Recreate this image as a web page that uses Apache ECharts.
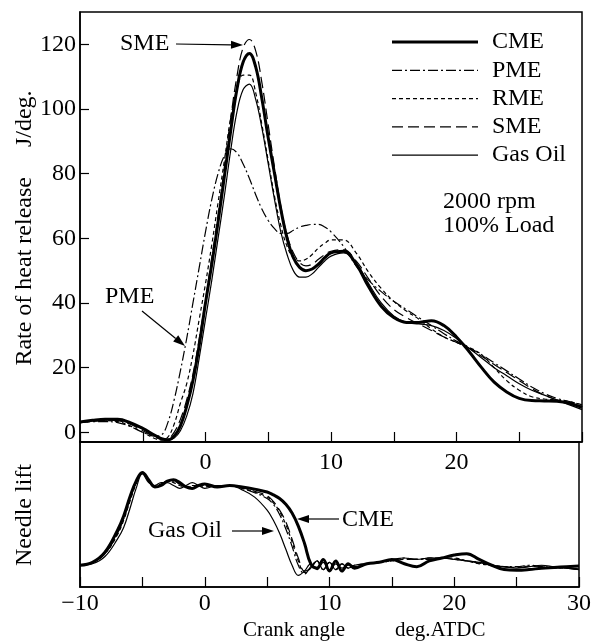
<!DOCTYPE html>
<html>
<head>
<meta charset="utf-8">
<script src="https://cdn.jsdelivr.net/npm/echarts@6/dist/echarts.min.js"></script>
<style>html,body{margin:0;padding:0;background:#fff}#c{width:594px;height:641px}</style>
</head>
<body>
<div id="c"></div>
<script>
// ---- Data: rate of heat release (J/deg.) ----
const angleHR = [-10,-9,-8,-7,-6,-5,-4,-3.5,-3,-2.5,-2,-1.5,-1,-0.5,0,0.5,1,1.5,2,2.5,3,3.5,4,4.5,5,5.5,6,6.5,7,7.5,8,8.5,9,9.5,10,11,12,13,14,15,16,17,18,19,20,21,22,23,24,25,26,27,28,29,30];
const hrCME = [3.2,3.7,4.0,4.0,3.0,1.2,-1.0,-2.0,-2.3,-1.2,2,8,16,27,40,52,65,79,93,106,114.5,117.2,113,103,91,80,69,60,54,51,50,50.5,52,54,55.5,56,52,45,39,35.5,34,34,34.5,33,29.5,25,20,15.5,12.5,10.5,9.8,9.7,9.6,9,7.7];
const hrPME = [3.0,3.3,3.3,3.0,1.8,0,-1.2,-0.8,3,10,19,29,40,51,62,72,80,85.5,87.7,86.5,83,78.5,73.5,69,65.5,63,61.5,61.5,62.5,63.5,64,64.3,64.3,63.5,62,57.5,51.5,47,43.5,40.5,38,35.5,33,30.5,28.2,26.2,24,21.5,19,16.5,14,12,10.5,9.5,8.5];
const hrRME = [3.0,3.4,3.6,3.3,2.0,0,-2.0,-2.4,-1.5,2.5,9,15,24,35,46,58,71,84,97,106,110.5,110.5,105,95,84,73,64,57.5,54,53,53.5,55,57,58.5,59.5,59.5,55.5,49.5,44.5,40.5,37.5,35,32,29.5,27.8,26.3,24,20,16,13,11,10.3,10,9.5,8.5];
const hrSME = [3.0,3.5,3.8,3.6,2.5,0.5,-1.5,-2.2,-2.0,0,4,10,18,29,41,54,67,82,97,110,119,121.5,118,108,95,82,70,61,55.5,52.5,51.5,52,53.5,55,56,56.5,53,47.5,42,38,35.5,33.5,31.5,29.5,27.8,26,23.5,21,18.5,16,13.5,11.5,10,9,8];
const hrGasOil = [3.0,3.5,3.8,3.8,2.8,1.0,-1.0,-2.0,-2.5,-1.8,0.5,5,12,23,35,47,60,73,87,99,106,107.7,103,94,83,72,62,55,50,48,48,49,51,53,54.5,55.5,52.5,46,40,36,34,33.5,33,31.5,29,26,23,20,17.5,15,13,11.5,10,8.5,7];

// ---- Data: needle lift (arbitrary units) ----
const angleNL = [-10,-9,-8,-7,-6.5,-6,-5.5,-5,-4.5,-4,-3.5,-3,-2.5,-2,-1.5,-1,-0.5,0,1,2,3,4,5,5.5,6,6.5,7,7.5,8,8.5,9,9.5,10,10.5,11,11.5,12,13,14,15,16,17,18,19,20,21,22,23,24,25,26,27,28,29,30];
const nlCME = [1.5,1.7,2.4,3.9,4.9,6.2,7.3,7.9,7.4,6.9,7.0,7.3,7.4,7.2,6.9,6.8,7.0,7.1,6.9,7.0,6.9,6.75,6.55,6.35,6.1,5.7,5.1,4.2,3.0,1.6,1.3,1.9,1.1,1.8,1.1,1.6,1.3,1.6,1.7,1.9,1.6,1.4,1.8,2.0,2.2,2.3,1.9,1.5,1.2,1.15,1.2,1.3,1.35,1.4,1.45];
const nlPME = [1.5,1.7,2.3,3.7,4.7,6.0,7.2,7.9,7.3,6.9,7.1,7.3,7.3,7.1,6.9,6.9,7.0,7.0,6.9,7.0,6.8,6.5,6.1,5.7,5.0,4.0,2.8,1.5,0.9,1.4,1.8,1.2,1.7,1.2,1.6,1.3,1.5,1.6,1.7,1.8,2.0,1.9,1.9,2.0,1.9,1.8,1.7,1.5,1.4,1.4,1.5,1.4,1.35,1.3,1.25];
const nlRME = [1.5,1.7,2.3,3.6,4.6,5.9,7.1,7.85,7.3,7.0,7.1,7.3,7.2,7.0,6.9,7.0,7.0,6.9,7.0,7.0,6.8,6.55,6.2,5.8,5.2,4.3,3.1,1.8,1.0,1.3,1.8,1.2,1.7,1.2,1.6,1.3,1.5,1.6,1.7,1.8,1.9,1.9,2.0,2.0,2.0,1.8,1.6,1.5,1.4,1.35,1.45,1.4,1.3,1.3,1.2];
const nlSME = [1.5,1.7,2.3,3.7,4.8,6.1,7.2,7.9,7.35,6.9,7.05,7.3,7.3,7.1,6.9,6.85,7.0,7.0,6.95,7.0,6.85,6.6,6.3,5.9,5.3,4.5,3.3,2.0,1.1,1.3,1.8,1.2,1.7,1.2,1.6,1.3,1.5,1.6,1.7,1.85,1.95,1.9,2.0,2.0,1.95,1.8,1.65,1.5,1.4,1.35,1.4,1.45,1.35,1.3,1.2];
const nlGasOil = [1.5,1.6,2.1,3.3,4.1,5.4,6.8,7.8,7.2,7.0,7.2,7.2,7.0,6.8,7.0,7.2,7.0,6.8,7.0,7.0,6.7,6.2,5.3,4.6,3.7,2.6,1.5,0.8,1.1,1.6,1.2,1.7,1.2,1.6,1.3,1.5,1.4,1.6,1.7,1.9,2.0,1.9,2.0,2.0,1.9,1.8,1.7,1.5,1.4,1.3,1.4,1.5,1.4,1.3,1.2];

// ---- Axis ticks ----
const hrTicks = [0,20,40,60,80,100,120];
const topXLabels = [0,10,20];
const bottomXLabels = [-10,0,10,20,30];
const fuels = ['CME','PME','RME','SME','Gas Oil'];

const FONT = '"Liberation Serif","Times New Roman",serif';
const FS = 24;
const styles = {
  'CME':     {width:3,   type:'solid'},
  'PME':     {width:1.2, type:[10,3,2,3]},
  'RME':     {width:1.2, type:[4,3]},
  'SME':     {width:1.2, type:[11,5]},
  'Gas Oil': {width:1.2, type:'solid'}
};
const zip = (xs, ys) => xs.map((x,i)=>[x, ys[i]]);
const hrData = {'CME':hrCME,'PME':hrPME,'RME':hrRME,'SME':hrSME,'Gas Oil':hrGasOil};
const nlData = {'CME':nlCME,'PME':nlPME,'RME':nlRME,'SME':nlSME,'Gas Oil':nlGasOil};
const order = ['PME','RME','SME','Gas Oil','CME'];

const series = [];
order.forEach(n=>{
  series.push({name:n,type:'line',xAxisIndex:0,yAxisIndex:0,data:zip(angleHR,hrData[n]),
    smooth:0.4,symbol:'none',itemStyle:{color:'#000'},lineStyle:{color:'#000',width:styles[n].width,type:styles[n].type},z:n==='CME'?5:3});
});
order.forEach(n=>{
  series.push({name:n,type:'line',xAxisIndex:1,yAxisIndex:1,data:zip(angleNL,nlData[n]),
    smooth:0.4,symbol:'none',itemStyle:{color:'#000'},lineStyle:{color:'#000',width:styles[n].width,type:styles[n].type},z:n==='CME'?5:3});
});

function arrow(x1,y1,x2,y2){
  const a=Math.atan2(y2-y1,x2-x1), L=12, W=4;
  const bx=x2-L*Math.cos(a), by=y2-L*Math.sin(a);
  const px=-Math.sin(a), py=Math.cos(a);
  return [
    {type:'line',shape:{x1:x1,y1:y1,x2:bx,y2:by},style:{stroke:'#000',lineWidth:1.2}},
    {type:'polygon',shape:{points:[[x2,y2],[bx+W*px,by+W*py],[bx-W*px,by-W*py]]},style:{fill:'#000'}}
  ];
}
function txt(t,x,y,size){
  return {type:'text',x:x,y:y,style:{text:t,fontSize:size,fontFamily:FONT,fill:'#000',
    align:'left',verticalAlign:'middle',textAlign:'left',textVerticalAlign:'middle'}};
}
function rtxt(t,x,y,size){
  return {type:'text',x:x,y:y,rotation:Math.PI/2,style:{text:t,fontSize:size,fontFamily:FONT,fill:'#000',
    align:'center',verticalAlign:'middle',textAlign:'center',textVerticalAlign:'middle'}};
}
// legend key (drawn manually so each sample shows its dash pattern)
const legendItems = [];
fuels.forEach((n,i)=>{
  const y = 42 + i*28.3;
  legendItems.push({type:'line',shape:{x1:392,y1:y,x2:478,y2:y},
    style:{stroke:'#000',lineWidth:styles[n].width,lineDash:Array.isArray(styles[n].type)?styles[n].type:null}});
  legendItems.push(txt(n,492,y,FS));
});

const graphics = [
  ...legendItems,
  txt('SME',120,44,FS),
  ...arrow(176,44,243,45),
  txt('PME',105,297,FS),
  ...arrow(142,311,185,346),
  txt('2000 rpm',443,202,FS),
  txt('100% Load',443,226,FS),
  txt('Gas Oil',148,531,FS),
  ...arrow(232,531,274,531),
  txt('CME',342,520,FS),
  ...arrow(339,519,297,519),
  rtxt('Rate of heat release     J/deg.',25,228,24),
  rtxt('Needle lift',25,515,24),
  txt('Crank angle',243,630,21),
  txt('deg.ATDC',395,630,21)
];

const axisLineStyle = {color:'#000',width:1.5};
const chart = echarts.init(document.getElementById('c'),null,{renderer:'canvas'});
chart.setOption({
  animation:false,
  backgroundColor:'#fff',
  textStyle:{fontFamily:FONT,color:'#000'},
  grid:[
    {left:80,right:12,top:12,height:430,show:true,borderColor:'#000',borderWidth:1.5},
    {left:80,right:12,top:442,height:145,show:true,borderColor:'#000',borderWidth:1.5}
  ],
  xAxis:[
    {gridIndex:0,type:'value',min:-10,max:30,interval:5,
     axisLine:{show:true,onZero:false,lineStyle:axisLineStyle},
     axisTick:{show:true,inside:true,length:10,lineStyle:{color:'#000',width:1.2}},
     axisLabel:{customValues:topXLabels,margin:9,fontSize:FS,color:'#000',fontFamily:FONT},
     splitLine:{show:false}},
    {gridIndex:1,type:'value',min:-10,max:30,interval:5,
     axisLine:{show:true,onZero:false,lineStyle:axisLineStyle},
     axisTick:{show:true,inside:true,length:10,lineStyle:{color:'#000',width:1.2}},
     axisLabel:{customValues:bottomXLabels,margin:5,fontSize:FS,color:'#000',fontFamily:FONT,
       formatter:v=>String(v).replace('-','\u2212')},
     splitLine:{show:false}}
  ],
  yAxis:[
    {gridIndex:0,type:'value',min:-3,max:130,
     axisLine:{show:true,onZero:false,lineStyle:axisLineStyle},
     axisTick:{show:true,inside:true,length:9,customValues:hrTicks,lineStyle:{color:'#000',width:1.2}},
     axisLabel:{customValues:hrTicks,margin:4,fontSize:FS,color:'#000',fontFamily:FONT},
     splitLine:{show:false}},
    {gridIndex:1,type:'value',min:0,max:10,
     axisLine:{show:true,onZero:false,lineStyle:axisLineStyle},
     axisTick:{show:false},axisLabel:{show:false},splitLine:{show:false}}
  ],
  graphic:graphics,
  series:series
});
</script>
</body>
</html>
